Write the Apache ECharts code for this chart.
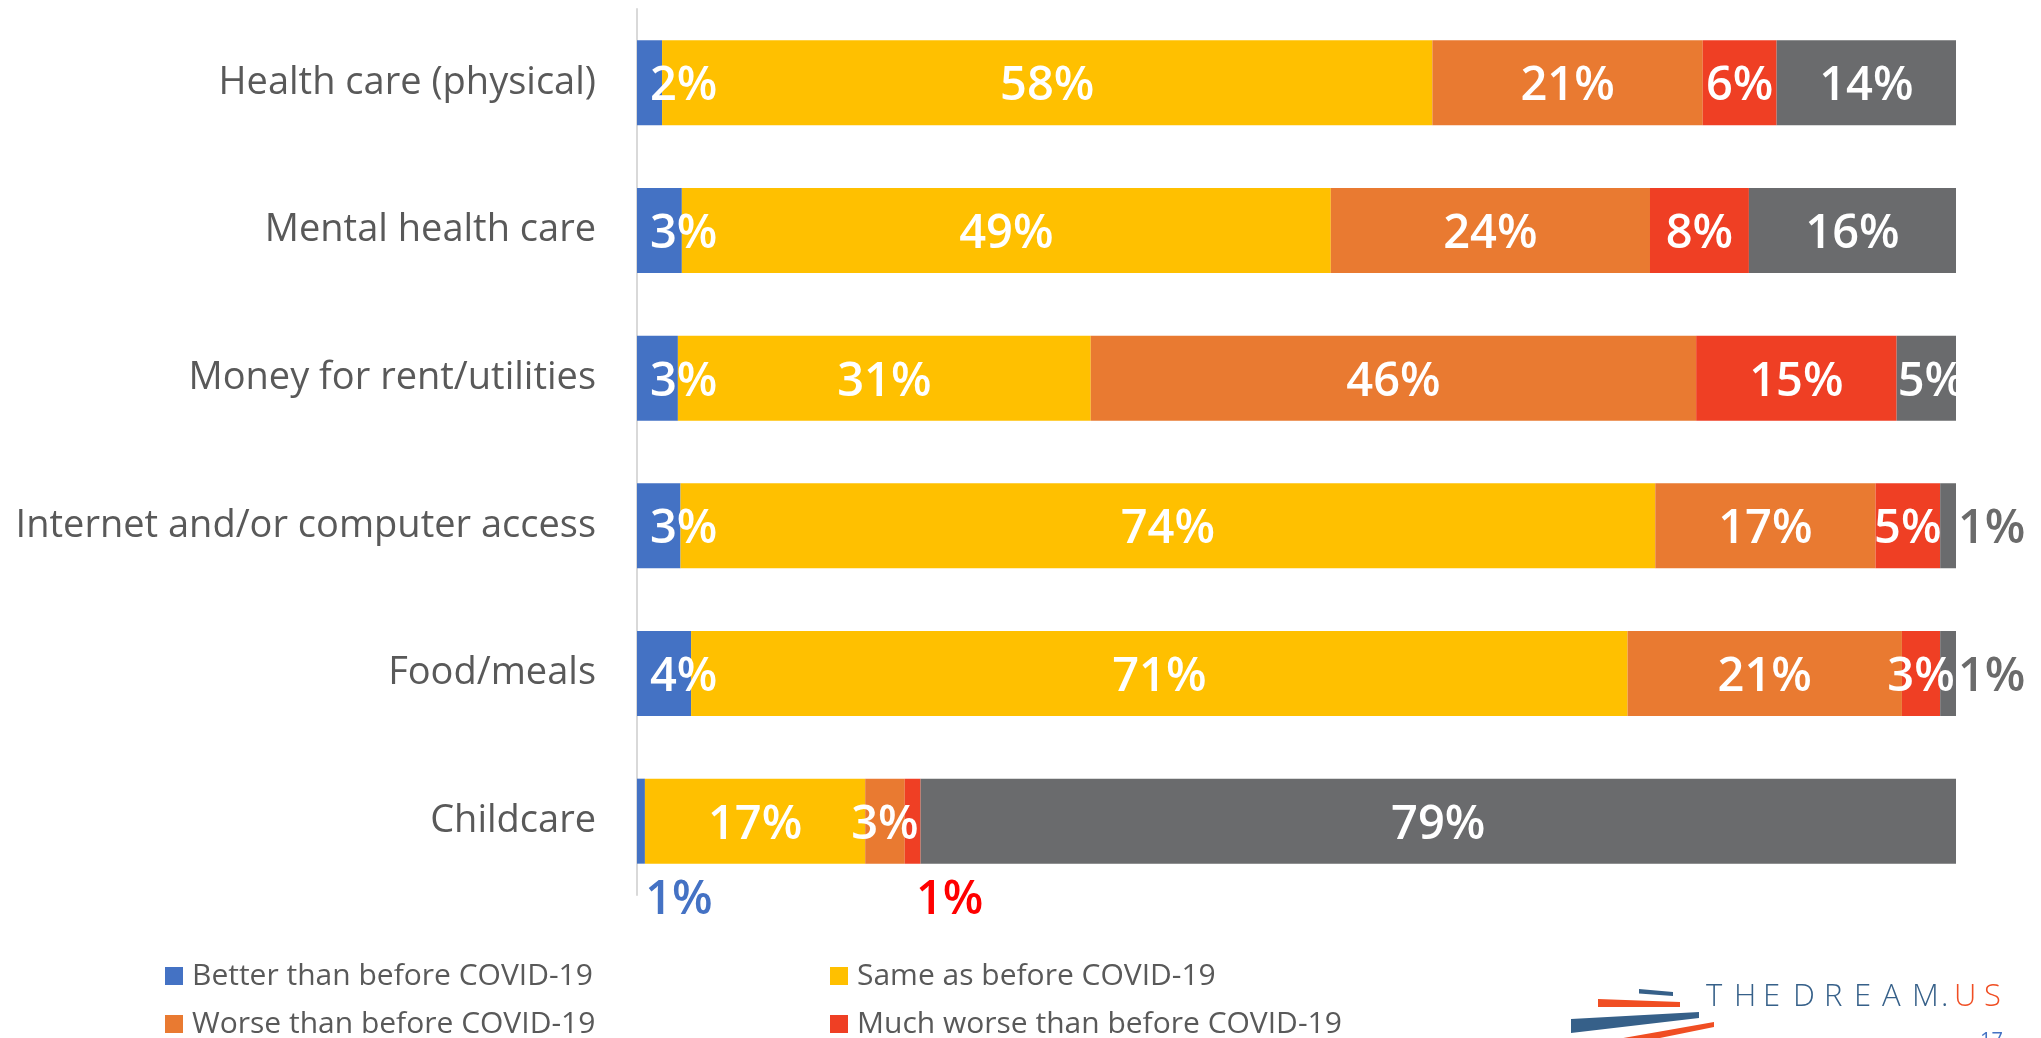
<!DOCTYPE html>
<html>
<head>
<meta charset="utf-8">
<style>
html,body{margin:0;padding:0;background:#fff;}
#chart{width:2041px;height:1038px;}
</style>
<script src="https://cdn.jsdelivr.net/npm/echarts@6/dist/echarts.min.js"></script>
</head>
<body>
<div id="chart"></div>
<script>
const categories = ['Health care (physical)', 'Mental health care', 'Money for rent/utilities', 'Internet and/or computer access', 'Food/meals', 'Childcare'];
const seriesNames = ['Better than before COVID-19', 'Same as before COVID-19', 'Worse than before COVID-19', 'Much worse than before COVID-19', 'Not applicable'];
const better     = [1.9, 3.4, 3.1, 3.3, 4.1, 0.6];
const same       = [58.4, 49.2, 31.3, 73.9, 71.0, 16.7];
const worse      = [20.5, 24.2, 45.9, 16.7, 20.8, 3.0];
const muchWorse  = [5.6, 7.5, 15.2, 4.9, 2.9, 1.2];
const notApplic  = [13.6, 15.7, 4.5, 1.2, 1.2, 78.5];

const colors = ['#4472C4', '#FFC000', '#E97A31', '#EF3F24', '#6A6B6D'];
const allData = [better, same, worse, muchWorse, notApplic];

// label placement overrides (style only)
function labelFor(si, ri) {
  if (si === 0) {
    if (ri === 5) return { position: 'bottom', distance: 13, offset: [38, 0], color: '#4472C4' };
    return { position: 'insideLeft', distance: 13 };
  }
  if (si === 3 && ri === 5) return { position: 'bottom', distance: 13, offset: [37, 0], color: '#FF0000' };
  if (si === 4) {
    if (ri === 3 || ri === 4) return { position: 'right', distance: 2, color: '#6B6B6B' };
    if (ri === 2) return { position: 'insideLeft', distance: 1 };
  }
  return null;
}

const series = allData.map((arr, si) => ({
  name: seriesNames[si],
  type: 'bar',
  stack: 'total',
  barWidth: 85,
  itemStyle: { color: colors[si] },
  label: {
    show: true,
    position: 'inside',
    offset: [0, 4],
    color: '#fff',
    fontFamily: 'Open Sans',
    fontWeight: 600,
    fontSize: 47,
    formatter: p => Math.round(p.value) + '%'
  },
  data: arr.map((v, ri) => {
    const l = labelFor(si, ri);
    return l ? { value: v, label: l } : v;
  })
}));

const chart = echarts.init(document.getElementById('chart'), null, { renderer: 'canvas' });

const logoLetters = ['T','H','E','D','R','E','A','M','.','U','S'];
const logoX = [1706, 1734, 1763, 1793, 1824, 1854, 1882, 1912, 1941, 1954, 1984];
const logoText = logoLetters.map((ch, i) => ({
  type: 'text',
  left: logoX[i],
  top: 982,
  style: {
    text: ch,
    fill: i >= 9 ? '#F04E23' : '#366089',
    font: '300 31px "Open Sans"'
  }
}));

function legendItem(name, left, top) {
  return {
    orient: 'horizontal', left: left, top: top,
    itemWidth: 18, itemHeight: 18, icon: 'rect', itemGap: 0,
    data: [name],
    textStyle: { fontSize: 30, color: '#595959', fontFamily: 'Open Sans', padding: [0, 0, 0, 4] }
  };
}

const option = {
  animation: false,
  backgroundColor: '#ffffff',
  grid: { left: 637, right: 85, top: 9, height: 886, containLabel: false },
  xAxis: {
    type: 'value', min: 0, max: 100,
    axisLine: { show: false }, axisTick: { show: false },
    axisLabel: { show: false }, splitLine: { show: false }
  },
  yAxis: {
    type: 'category',
    inverse: true,
    data: categories,
    axisLine: { show: true, lineStyle: { color: '#D9D9D9', width: 2 } },
    axisTick: { show: false },
    axisLabel: { margin: 41, fontSize: 38, color: '#595959', fontFamily: 'Open Sans' }
  },
  legend: [
    legendItem(seriesNames[0], 160, 956),
    legendItem(seriesNames[1], 825, 956),
    legendItem(seriesNames[2], 160, 1004),
    legendItem(seriesNames[3], 825, 1004)
  ],
  graphic: [
    { type: 'polygon', shape: { points: [[1639, 989], [1673, 992], [1673, 996], [1639, 993.5]] }, style: { fill: '#366089' } },
    { type: 'polygon', shape: { points: [[1598, 999], [1680, 1002], [1680, 1007], [1598, 1007]] }, style: { fill: '#F04E23' } },
    { type: 'polygon', shape: { points: [[1571, 1019], [1699, 1012], [1699, 1018], [1571, 1033]] }, style: { fill: '#366089' } },
    { type: 'polygon', shape: { points: [[1612, 1040], [1714, 1022], [1714, 1027], [1650, 1040]] }, style: { fill: '#F04E23' } },
    ...logoText,
    { type: 'text', left: 1980, top: 1030, style: { text: '17', fill: '#4472C4', font: '20px "Open Sans"' } }
  ],
  series: series
};
chart.setOption(option);
</script>
</body>
</html>
